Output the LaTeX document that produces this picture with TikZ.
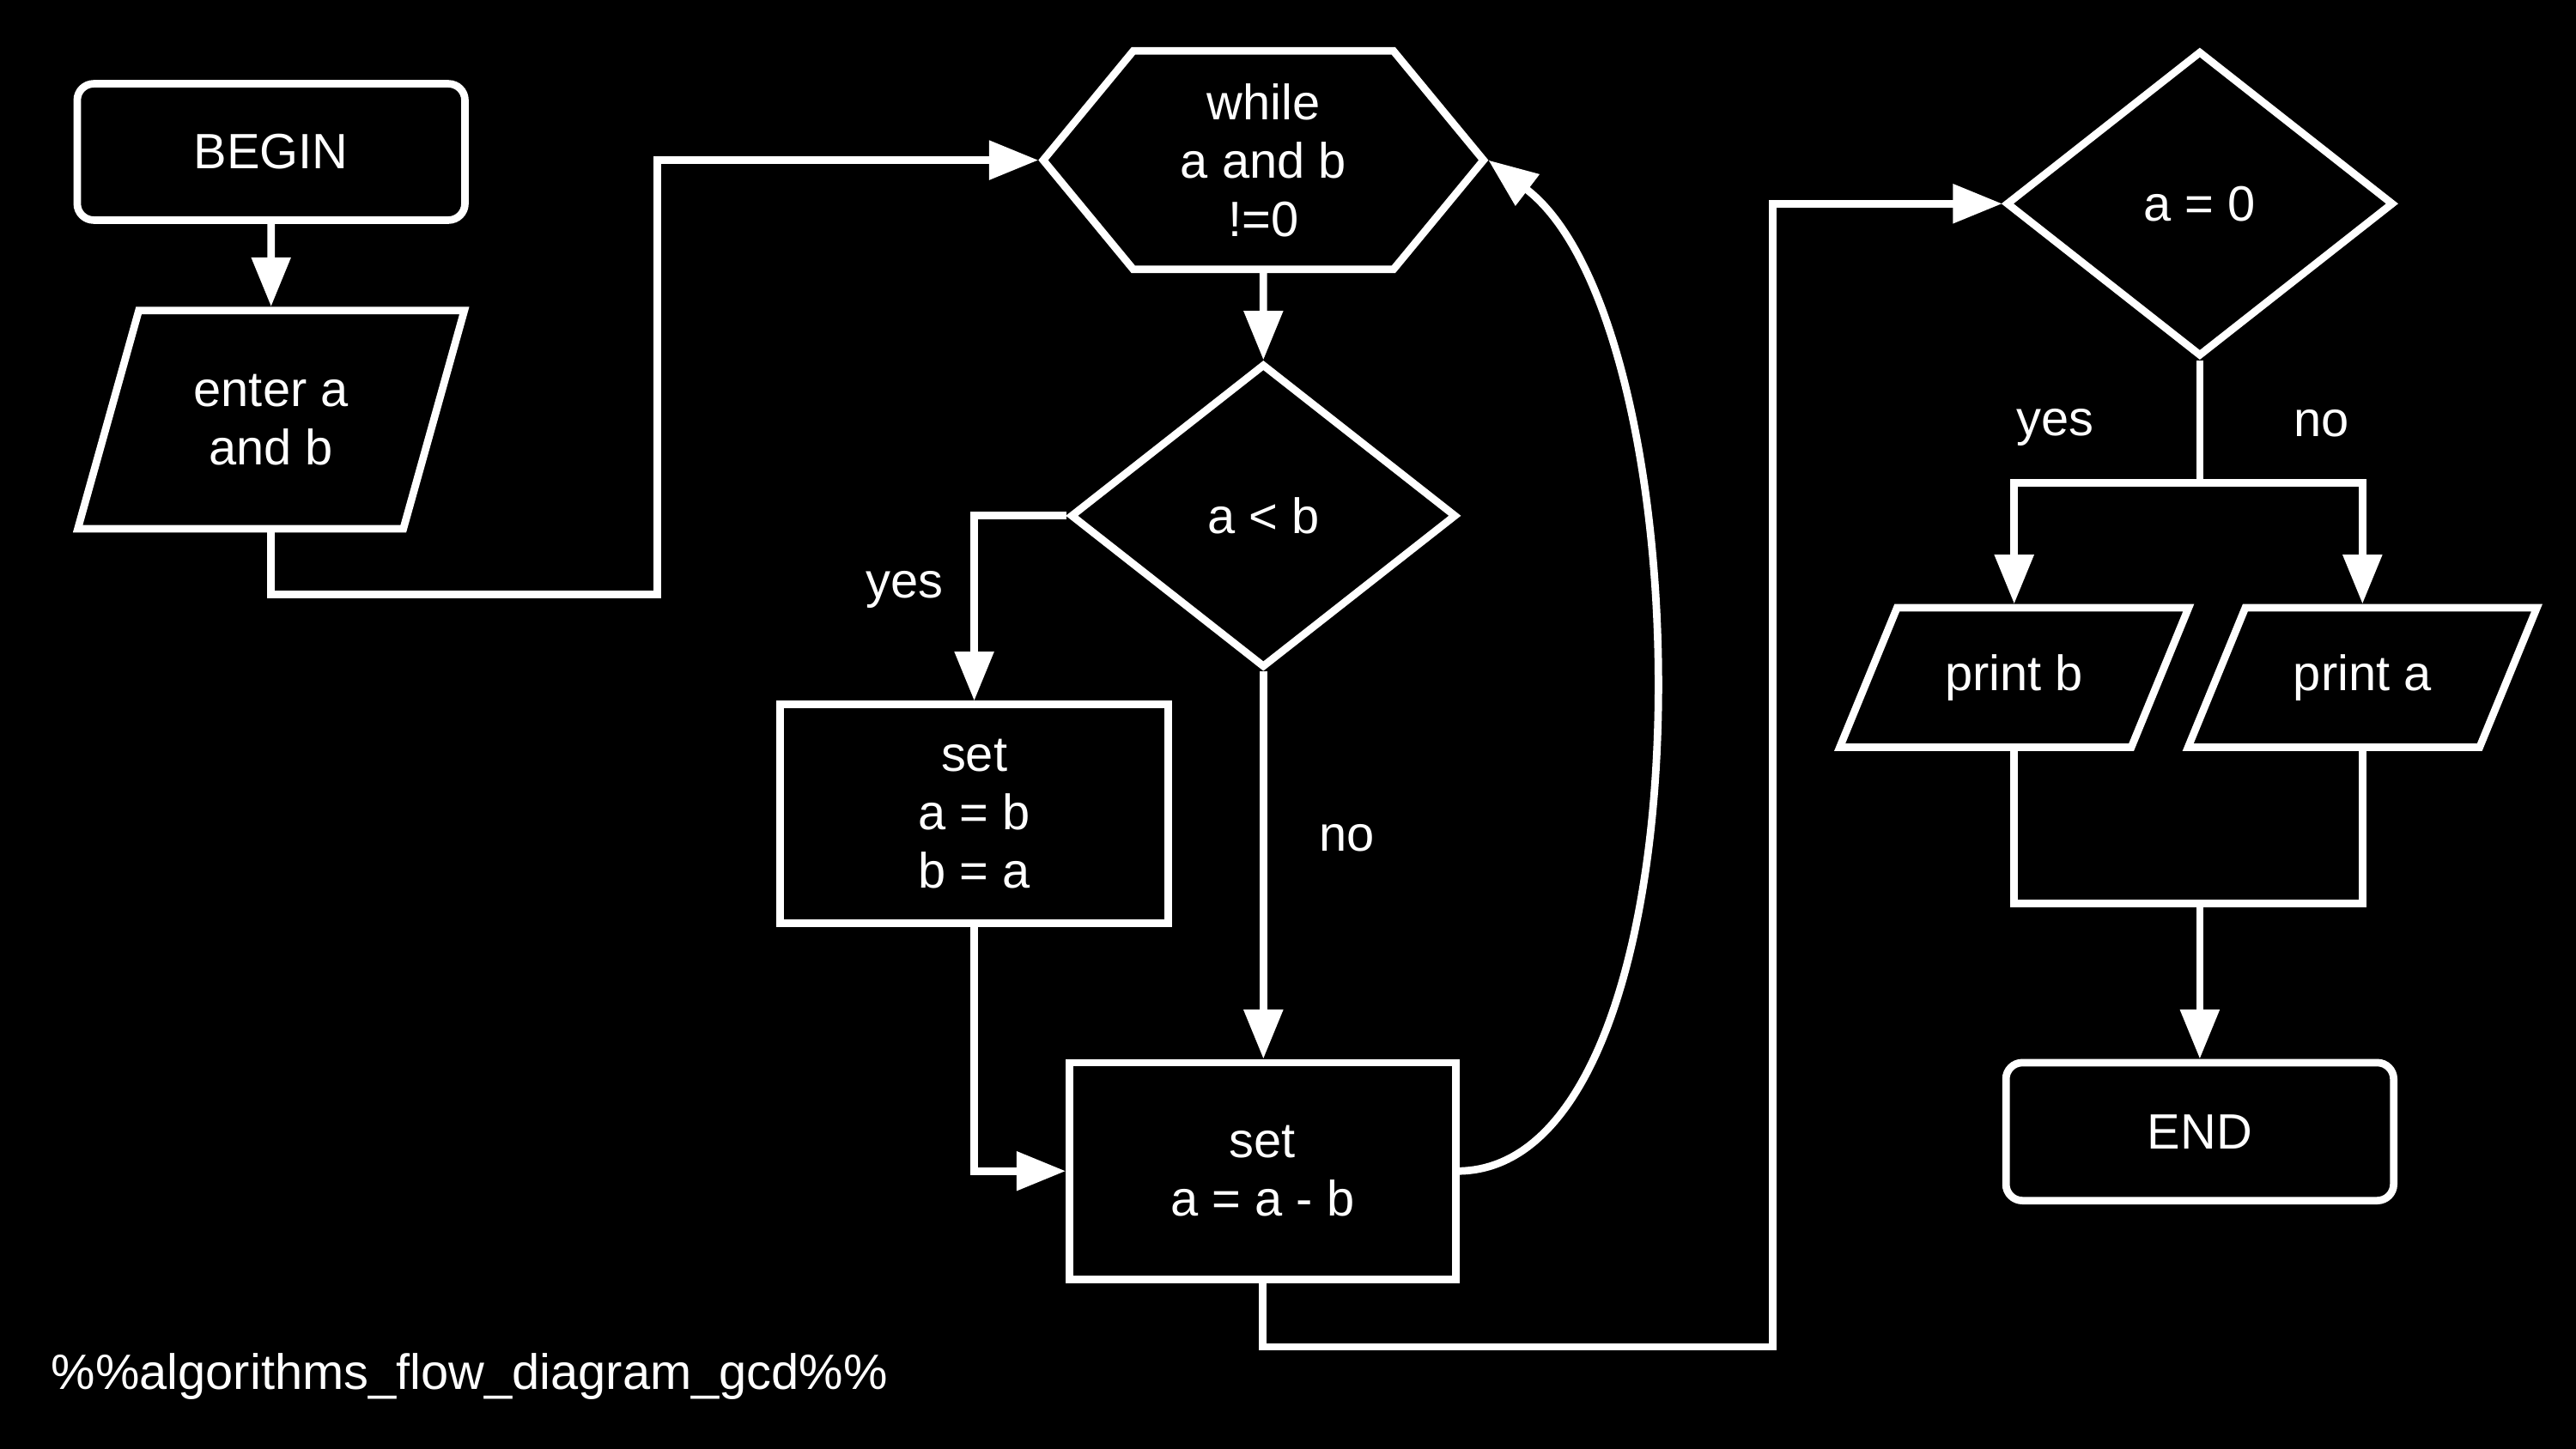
\documentclass[tikz,border=0pt]{standalone}
\usepackage{fontspec}
\setmainfont{Liberation Sans}
\usetikzlibrary{
  shapes.geometric,
  shapes.symbols,
  arrows.meta
}

\begin{document}
\begin{tikzpicture}[
  line width=1.3pt, white,
  every node/.style={text=white, align=center, font=\fontsize{8.6}{10.1}\selectfont},
  terminal/.style={draw, rectangle, rounded corners=0.1cm, minimum width=2.36cm, minimum height=0.83cm},
  process/.style={draw, rectangle, minimum width=2.36cm, minimum height=1.33cm},
  io/.style={draw, trapezium, trapezium stretches=true, trapezium left angle=71, trapezium right angle=109, minimum width=2.36cm, minimum height=1.33cm},
  decision/.style={draw, diamond, inner sep=0pt, minimum width=2.35cm, minimum height=1.85cm},
  loopcond/.style={draw, signal, signal to=west and east, signal pointer angle=101, minimum width=2.68cm, minimum height=1.33cm},
  flow/.style={-{Triangle[length=3mm,width=2.3mm]}},
]
\fill[black] (0,0) rectangle (15.68,-8.82);
\useasboundingbox (0,0) rectangle (15.68,-8.82);

\node[terminal] (begin) at (1.65,-0.925) {BEGIN};
\node[io] (enter) at (1.65,-2.555) {enter a\\and b};
\node[loopcond] (while) at (7.69,-0.975) {while\\a and b\\!=0};
\node[decision] (altb) at (7.69,-3.14) {a < b};
\node[process] (swap) at (5.93,-4.955) {set\\a = b\\b = a};
\node[process, minimum width=2.35cm, minimum height=1.32cm] (sub) at (7.685,-7.13) {set\\a = a - b};
\node[decision, minimum width=2.36cm, minimum height=1.86cm] (azero) at (13.39,-1.24) {a = 0};
\node[io, trapezium left angle=63, trapezium right angle=117, minimum width=2.13cm, minimum height=0.85cm] (printb) at (12.26,-4.125) {print b};
\node[io, trapezium left angle=63, trapezium right angle=117, minimum width=2.13cm, minimum height=0.85cm] (printa) at (14.38,-4.125) {print a};
\node[terminal, minimum height=0.84cm] (end) at (13.39,-6.89) {END};
\node[anchor=west, inner sep=0pt] (caption) at (0.29,-8.38) {\%\%algorithms\_flow\_diagram\_gcd\%\%};

\coordinate (bend1) at (4.00,-3.62);
\coordinate (bend2) at (10.79,-8.20);
\coordinate (split) at (13.39,-2.94);
\coordinate (merge) at (13.39,-5.50);

\draw[flow] (begin) -- (enter);
\draw[flow] (enter.south) |- (bend1) |- (while.west);
\draw[flow] (while) -- (altb);
\draw[flow] (altb.west) -| (swap.north) node[pos=0.7, left=0.05cm] {yes};
\draw[flow] (altb.south) -- (altb.south |- sub.north) node[pos=0.43, right=0.2cm] {no};
\draw[flow] (swap.south) |- (sub.west);
\draw[flow] (sub.east) .. controls (10.45,-7.1) and (10.4,-2.0) .. (while.east);
\draw[flow] (sub.south) |- (bend2) |- (azero.west);
\draw (azero.south) -- (split);
\draw[flow] (split) -| (printb.north);
\draw[flow] (split) -| (printa.north);
\node (yes2) at (12.51,-2.60) {yes};
\node (no2) at (14.13,-2.58) {no};
\draw (printb.south) |- (merge);
\draw (printa.south) |- (merge);
\draw[flow] (merge) -- (end);
\end{tikzpicture}
\end{document}
